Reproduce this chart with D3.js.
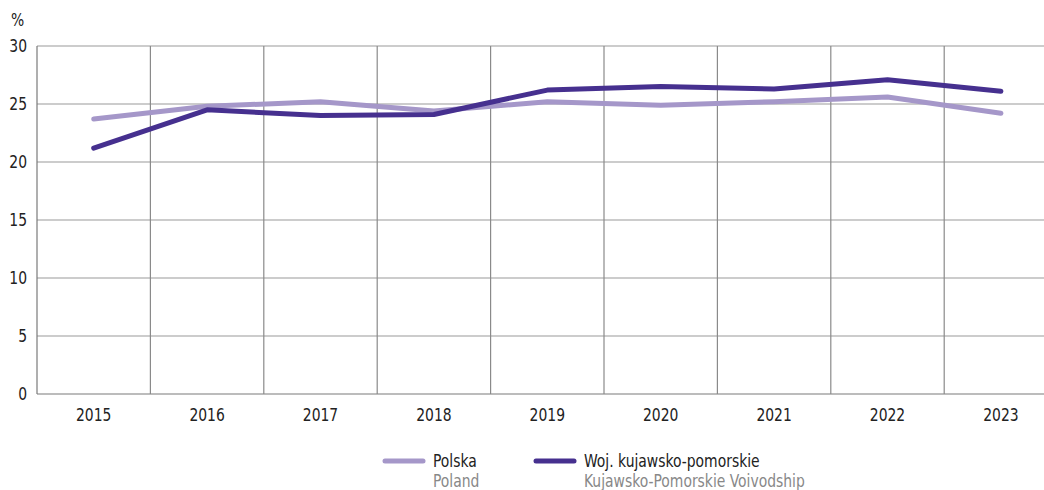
<!DOCTYPE html>
<html><head><meta charset="utf-8">
<script src="https://cdn.jsdelivr.net/npm/d3@7"></script>
<style>
body{margin:0;background:#fff;}
svg{display:block;font-family:"DejaVu Sans Condensed","Liberation Sans Narrow",sans-serif;}
</style></head><body>
<svg id="c" width="1044" height="490"></svg>
<script>
const years = ["2015","2016","2017","2018","2019","2020","2021","2022","2023"];
const polska = [23.7,24.8,25.2,24.4,25.2,24.9,25.2,25.6,24.2];
const woj = [21.2,24.5,24.0,24.1,26.2,26.5,26.3,27.1,26.1];
const yTicks = [0,5,10,15,20,25,30];

const svg = d3.select("#c");
const mLeft = 37, mTop = 46, mBottom = 394, band = 113.4;
const SX = 0.86;
const x = d3.scaleBand().domain(years).range([mLeft, mLeft + band*years.length]).padding(0);
const y = d3.scaleLinear().domain([0,30]).range([mBottom, mTop]);
const tf = (px, py) => `translate(${px},${py}) scale(${SX},1)`;

const g = svg.append("g");
// horizontal gridlines
g.selectAll(".hg").data(yTicks).join("line")
  .attr("x1", mLeft).attr("x2", mLeft + band*years.length)
  .attr("y1", d=>y(d)).attr("y2", d=>y(d))
  .attr("stroke", d=> d===0 ? "#7a7a7a" : "#9a9a9a").attr("stroke-width", 1.2);
// vertical gridlines
g.selectAll(".vg").data(years).join("line")
  .attr("x1", d=>x(d)).attr("x2", d=>x(d))
  .attr("y1", mTop).attr("y2", mBottom)
  .attr("stroke", (d,i)=> i===0 ? "#7a7a7a" : "#8a8a8a").attr("stroke-width", 1.2);

// y labels
g.selectAll(".yl").data(yTicks).join("text")
  .attr("transform", d=>tf(27, y(d)+6))
  .attr("text-anchor","end").attr("font-size", 18).attr("fill","#222")
  .text(d=>d);
g.append("text").attr("transform", tf(11, 26)).attr("font-size", 18).attr("fill","#222").text("%");

// x labels
g.selectAll(".xl").data(years).join("text")
  .attr("transform", d=>tf(x(d)+x.bandwidth()/2, 421))
  .attr("text-anchor","middle").attr("font-size", 18).attr("fill","#222")
  .text(d=>d);

const line = d3.line().x((d,i)=>x(years[i])+x.bandwidth()/2).y(d=>y(d));
const cPol = "#a597c9", cWoj = "#46308f";
g.append("path").datum(polska).attr("d", line).attr("fill","none")
  .attr("stroke", cPol).attr("stroke-width", 5).attr("stroke-linecap","round").attr("stroke-linejoin","round");
g.append("path").datum(woj).attr("d", line).attr("fill","none")
  .attr("stroke", cWoj).attr("stroke-width", 5).attr("stroke-linecap","round").attr("stroke-linejoin","round");

// legend
const leg = [
  {x:385, c:cPol, t1:"Polska", t2:"Poland"},
  {x:536, c:cWoj, t1:"Woj. kujawsko-pomorskie", t2:"Kujawsko-Pomorskie Voivodship"}
];
const lg = svg.append("g").selectAll("g").data(leg).join("g");
lg.append("line").attr("x1", d=>d.x).attr("x2", d=>d.x+38).attr("y1",461).attr("y2",461)
  .attr("stroke", d=>d.c).attr("stroke-width",5).attr("stroke-linecap","round");
lg.append("text").attr("transform", d=>tf(d.x+48, 467)).attr("font-size",18).attr("fill","#222").text(d=>d.t1);
lg.append("text").attr("transform", d=>tf(d.x+48, 487)).attr("font-size",18).attr("fill","#888").text(d=>d.t2);
</script>
</body></html>
